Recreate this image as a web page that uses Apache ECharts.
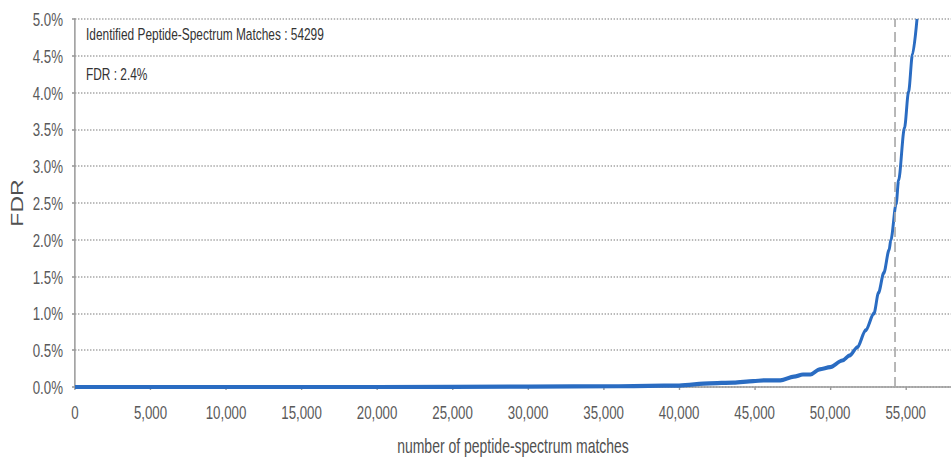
<!DOCTYPE html>
<html>
<head>
<meta charset="utf-8">
<title>FDR vs number of peptide-spectrum matches</title>
<script src="https://cdn.jsdelivr.net/npm/echarts@6/dist/echarts.min.js"></script>
<style>
  html, body { margin: 0; padding: 0; background: #ffffff; overflow: hidden; }
  #stage { width: 951px; height: 459px; overflow: hidden; }
  #chart { height: 459px; transform-origin: 0 0; }
</style>
</head>
<body>
<div id="stage"><div id="chart"></div></div>
<script>
// Number of accepted peptide-spectrum matches (ranked by score)
const psmCounts = [0, 10000, 20000, 30000, 36000, 38000, 40000, 42000, 43600, 44900,
  45600, 46700, 47600, 48200, 48700, 49300, 50000, 50800, 51300, 51800,
  52350, 52900, 53200, 53550, 53900, 54020, 54370, 54530, 54920, 55190, 55450, 55750];
// Estimated false discovery rate (%) at each count
const fdrValues = [0, 0, 0, 0.005, 0.01, 0.015, 0.02, 0.05, 0.06, 0.08,
  0.09, 0.09, 0.14, 0.17, 0.17, 0.24, 0.27, 0.36, 0.43, 0.54,
  0.77, 1.0, 1.28, 1.55, 1.86, 2.0, 2.49, 2.81, 3.52, 4.01, 4.52, 5.0];

// Chosen cut-off
const identifiedPsms = 54299;
const fdrAtCutoff = 2.4;

// Axis ticks
const xTickValues = [0, 5000, 10000, 15000, 20000, 25000, 30000, 35000, 40000, 45000, 50000, 55000];

// The chart is laid out wider and squeezed horizontally so its lettering
// comes out tall and condensed.
const squeeze = 0.7;
const fullWidth = Math.round(951 / squeeze);
const sx = 951 / fullWidth;
const X = px => px / sx;   // horizontal screen pixels -> layout pixels

const el = document.getElementById('chart');
el.style.width = fullWidth + 'px';
el.style.transform = 'scaleX(' + sx + ')';

const font = '"Liberation Sans", Arial, sans-serif';
const axisGrey = '#9a9a9a';

const chart = echarts.init(el, null, { renderer: 'svg', width: fullWidth, height: 459 });

chart.setOption({
  animation: false,
  backgroundColor: '#ffffff',
  grid: { left: X(75), right: 0, top: 19, bottom: 72, containLabel: false, outerBoundsMode: 'none' },
  xAxis: {
    type: 'value',
    min: 0,
    max: 58000,
    interval: 5000,
    offset: 8,
    name: 'number of peptide-spectrum matches',
    nameLocation: 'middle',
    nameGap: 41,
    nameTextStyle: { fontFamily: font, fontSize: 20, color: '#505050' },
    axisLine: { show: true, lineStyle: { color: axisGrey, width: 1.6 } },
    axisTick: { show: true, length: 3, customValues: xTickValues, lineStyle: { color: axisGrey, width: 2 } },
    axisLabel: {
      customValues: xTickValues,
      margin: 8,
      fontFamily: font,
      fontSize: 19,
      color: '#5a5a5a',
      formatter: v => v.toLocaleString('en-US')
    },
    splitLine: { show: false }
  },
  yAxis: {
    type: 'value',
    min: 0,
    max: 5,
    interval: 0.5,
    offset: X(4),
    name: 'FDR',
    nameLocation: 'middle',
    nameGap: X(34),
    nameTextStyle: { fontFamily: font, fontSize: 23, color: '#505050' },
    axisLine: { show: true, lineStyle: { color: axisGrey, width: 2.2 } },
    axisTick: { show: true, length: X(3), lineStyle: { color: axisGrey, width: 1.6 } },
    axisLabel: {
      margin: X(8),
      fontFamily: font,
      fontSize: 19,
      color: '#5a5a5a',
      formatter: v => v.toFixed(1) + '%'
    },
    splitLine: { show: true, lineStyle: { color: '#a3a3a3', width: 1.6, type: [2, 2.3] } }
  },
  graphic: [
    {
      type: 'text',
      left: X(86),
      top: 26,
      style: {
        text: 'Identified Peptide-Spectrum Matches : ' + identifiedPsms,
        fontFamily: font,
        fontSize: 17,
        fill: '#333333'
      }
    },
    {
      type: 'text',
      left: X(86),
      top: 66,
      style: {
        text: 'FDR : ' + fdrAtCutoff.toFixed(1) + '%',
        fontFamily: font,
        fontSize: 17,
        fill: '#333333'
      }
    }
  ],
  series: [
    {
      type: 'line',
      data: psmCounts.map((n, i) => [n, fdrValues[i]]),
      showSymbol: false,
      smooth: 0.3,
      smoothMonotone: 'x',
      clip: true,
      lineStyle: { color: '#2a6cc2', width: 4.2 },
      markLine: {
        silent: true,
        symbol: ['none', 'none'],
        label: { show: false },
        lineStyle: { color: '#ababab', width: 2.4, type: [10, 5] },
        data: [{ xAxis: identifiedPsms }]
      }
    }
  ]
});
</script>
</body>
</html>
